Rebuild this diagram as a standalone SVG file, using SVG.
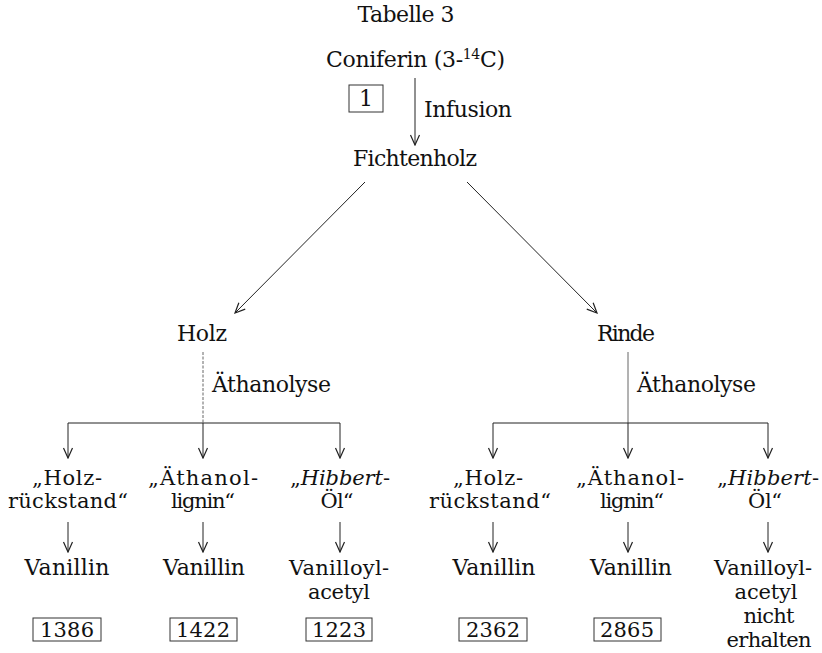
<svg xmlns="http://www.w3.org/2000/svg" width="822" height="653" viewBox="0 0 822 653">
<style>
text{font-family:"DejaVu Serif","Liberation Serif",serif;font-size:22px;fill:#111;}
.m{text-anchor:middle;}
.s{font-size:21px;}
.it{font-style:italic;}
.ln{stroke:#222;stroke-width:1;fill:none;}
.lt{stroke:#666;stroke-width:1;fill:none;}
.bx{fill:none;stroke:#333;stroke-width:1;}
</style>
<defs>
<marker id="ah" viewBox="0 0 12 12" refX="11" refY="6" markerWidth="12" markerHeight="12" markerUnits="userSpaceOnUse" orient="auto">
<path d="M1,1.5 L11,6 L1,10.5" fill="none" stroke="#222" stroke-width="1.2"/>
</marker>
</defs>
<rect width="822" height="653" fill="#fff"/>
<g id="title"><text class="m" x="406" y="22" font-size="20" textLength="97">Tabelle 3</text></g>
<g id="coniferin"><text x="326" y="67" textLength="179">Coniferin  (3-<tspan font-size="14" dy="-8">14</tspan><tspan dy="8">C)</tspan></text>
<rect class="bx" x="349" y="85" width="34" height="27"/><text class="m" x="366" y="106">1</text></g>
<g id="fichtenholz"><text class="m" x="415" y="166" textLength="124">Fichtenholz</text></g>
<g id="holz"><text x="177" y="341" textLength="50">Holz</text></g>
<g id="rinde"><text x="597" y="341" textLength="58">Rinde</text></g>
<g id="labels-edges">
<text x="424" y="117" textLength="88">Infusion</text>
<text x="212" y="392" textLength="119">Äthanolyse</text>
<text x="637" y="392" textLength="119">Äthanolyse</text>
</g>
<g id="connectors">
<line class="ln" x1="415" y1="78" x2="415" y2="145" marker-end="url(#ah)"/>
<line class="ln" x1="365" y1="182" x2="235" y2="313" marker-end="url(#ah)"/>
<line class="ln" x1="467" y1="182" x2="597" y2="313" marker-end="url(#ah)"/>
<line class="lt" x1="203" y1="352" x2="203" y2="423" stroke-dasharray="3,1.5"/>
<line class="lt" x1="628" y1="352" x2="628" y2="423"/>
<line class="ln" x1="68" y1="423" x2="340" y2="423"/>
<line class="ln" x1="493" y1="423" x2="768" y2="423"/>
<line class="ln" x1="68" y1="423" x2="68" y2="458" marker-end="url(#ah)"/>
<line class="ln" x1="203" y1="423" x2="203" y2="458" marker-end="url(#ah)"/>
<line class="ln" x1="340" y1="423" x2="340" y2="458" marker-end="url(#ah)"/>
<line class="ln" x1="493" y1="423" x2="493" y2="458" marker-end="url(#ah)"/>
<line class="ln" x1="628" y1="423" x2="628" y2="458" marker-end="url(#ah)"/>
<line class="ln" x1="768" y1="423" x2="768" y2="458" marker-end="url(#ah)"/>
<line class="ln" x1="68" y1="522" x2="68" y2="552" marker-end="url(#ah)"/>
<line class="ln" x1="203" y1="522" x2="203" y2="552" marker-end="url(#ah)"/>
<line class="ln" x1="340" y1="522" x2="340" y2="552" marker-end="url(#ah)"/>
<line class="ln" x1="493" y1="522" x2="493" y2="552" marker-end="url(#ah)"/>
<line class="ln" x1="628" y1="522" x2="628" y2="552" marker-end="url(#ah)"/>
<line class="ln" x1="768" y1="522" x2="768" y2="552" marker-end="url(#ah)"/>
</g>
<g id="holz-rueckstand"><text class="m s" x="67" y="485" textLength="70">„Holz-</text><text class="m s" x="68" y="508" textLength="120">rückstand“</text></g>
<g id="holz-aethanollignin"><text class="m s" x="203" y="485" textLength="110">„Äthanol-</text><text class="m s" x="203" y="508" textLength="64">lignin“</text></g>
<g id="holz-hibbert"><text class="m s" x="340" y="485" textLength="100">„<tspan class="it">Hibbert</tspan>-</text><text class="m s" x="337" y="508" textLength="33">Öl“</text></g>
<g id="rinde-rueckstand"><text class="m s" x="488" y="485" textLength="70">„Holz-</text><text class="m s" x="490" y="508" textLength="122">rückstand“</text></g>
<g id="rinde-aethanollignin"><text class="m s" x="630" y="485" textLength="108">„Äthanol-</text><text class="m s" x="632" y="508" textLength="64">lignin“</text></g>
<g id="rinde-hibbert"><text class="m s" x="768" y="485" textLength="102">„<tspan class="it">Hibbert</tspan>-</text><text class="m s" x="765" y="508" textLength="34">Öl“</text></g>
<g id="holz-vanillin1"><text class="m" x="67" y="575" textLength="85">Vanillin</text><rect class="bx" x="33" y="618" width="68" height="23"/><text class="m s" x="67" y="637" textLength="54">1386</text></g>
<g id="holz-vanillin2"><text class="m" x="204" y="575" textLength="82">Vanillin</text><rect class="bx" x="170" y="618" width="67" height="23"/><text class="m s" x="203" y="637" textLength="54">1422</text></g>
<g id="holz-vanilloylacetyl"><text class="m s" x="339" y="575" textLength="100">Vanilloyl-</text><text class="m s" x="339" y="599" textLength="62">acetyl</text><rect class="bx" x="306" y="618" width="66" height="23"/><text class="m s" x="339" y="637" textLength="54">1223</text></g>
<g id="rinde-vanillin1"><text class="m" x="494" y="575" textLength="83">Vanillin</text><rect class="bx" x="459" y="618" width="68" height="23"/><text class="m s" x="493" y="637" textLength="54">2362</text></g>
<g id="rinde-vanillin2"><text class="m" x="631" y="575" textLength="82">Vanillin</text><rect class="bx" x="594" y="618" width="67" height="23"/><text class="m s" x="627" y="637" textLength="54">2865</text></g>
<g id="rinde-vanilloylacetyl"><text class="m s" x="763" y="575" textLength="98">Vanilloyl-</text><text class="m s" x="766" y="599" textLength="63">acetyl</text><text class="m s" x="769" y="623" textLength="51">nicht</text><text class="m s" x="769" y="647" textLength="85">erhalten</text></g>
</svg>
